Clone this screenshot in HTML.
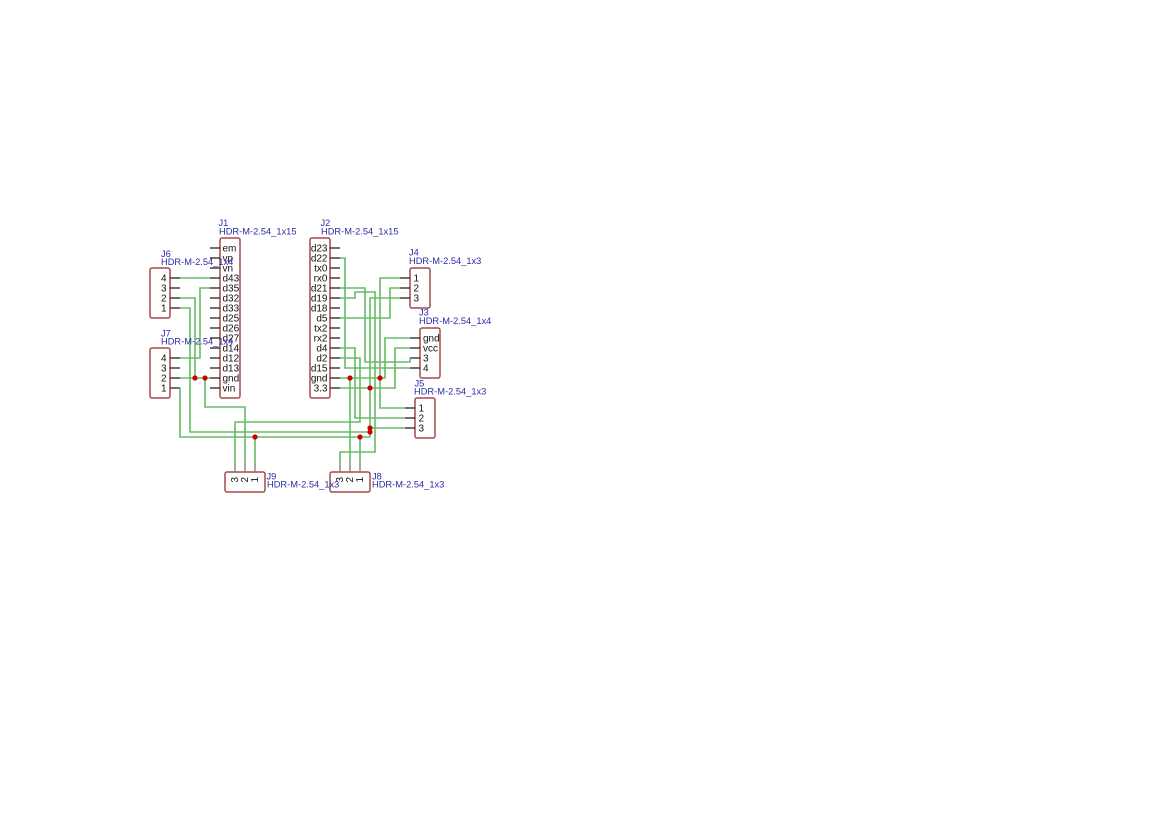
<!DOCTYPE html>
<html>
<head>
<meta charset="utf-8">
<style>
  html, body { margin: 0; padding: 0; background: #ffffff; }
  svg { display: block; }
  .ref { font-family: "Liberation Sans", Arial, sans-serif; font-size: 9.3px; fill: #2b2ba8; }
  .pn { font-family: "Liberation Sans", Arial, sans-serif; font-size: 10px; fill: #111; }
  .box { fill: #ffffff; stroke: #a34a4a; stroke-width: 1.5; }
  .stub { stroke: #1a1a1a; stroke-width: 1.2; fill: none; }
  .stubg { stroke: #808080; stroke-width: 1.4; fill: none; }
  .w { stroke: #66bb66; stroke-width: 1.6; fill: none; stroke-linejoin: miter; }
  .j { fill: #cc0000; }
</style>
</head>
<body>
<svg width="1169" height="828" viewBox="0 0 1169 828" xmlns="http://www.w3.org/2000/svg">
  <rect x="0" y="0" width="1169" height="828" fill="#ffffff"/>

  <!-- ===== Bodies ===== -->
  <rect class="box" x="220" y="238" width="20" height="160" rx="2"/>
  <rect class="box" x="310" y="238" width="20" height="160" rx="2"/>
  <rect class="box" x="150" y="268" width="20" height="50" rx="2"/>
  <rect class="box" x="150" y="348" width="20" height="50" rx="2"/>
  <rect class="box" x="410" y="268" width="20" height="40" rx="2"/>
  <rect class="box" x="420" y="328" width="20" height="50" rx="2"/>
  <rect class="box" x="415" y="398" width="20" height="40" rx="2"/>
  <rect class="box" x="225" y="472" width="40" height="20" rx="2"/>
  <rect class="box" x="330" y="472" width="40" height="20" rx="2"/>

  <!-- ===== Pin stubs ===== -->
  <g class="stub">
    <!-- J1 -->
    <path d="M210 248H220M210 258H220M210 268H220M210 278H220M210 288H220M210 298H220M210 308H220M210 318H220M210 328H220M210 338H220M210 348H220M210 358H220M210 368H220M210 378H220M210 388H220"/>
    <!-- J2 -->
    <path d="M330 248H340M330 258H340M330 268H340M330 278H340M330 288H340M330 298H340M330 308H340M330 318H340M330 328H340M330 338H340M330 348H340M330 358H340M330 368H340M330 378H340M330 388H340"/>
    <!-- J6 / J7 -->
    <path d="M170 278H180M170 288H180M170 298H180M170 308H180"/>
    <path d="M170 358H180M170 368H180M170 378H180M170 388H180"/>
    <!-- J4 -->
    <path d="M400 278H410M400 288H410M400 298H410"/>
    <!-- J3 -->
    <path d="M410 338H420M410 348H420M410 358H420M410 368H420"/>
    <!-- J5 -->
    <path d="M405 408H415M405 418H415M405 428H415"/>
  </g>
  <g class="stubg">
    <path d="M235 462V472M245 462V472M255 462V472"/>
    <path d="M340 462V472M350 462V472M360 462V472"/>
  </g>

  <!-- ===== Wires ===== -->
  <g class="w">
    <path d="M180 278H210"/>
    <path d="M180 358H200V288H210"/>
    <path d="M180 298H195V378"/>
    <path d="M180 378H210"/>
    <path d="M180 308H190V432H370"/>
    <path d="M180 388V437H370"/>
    <path d="M400 298H370V437"/>
    <path d="M205 378V407H245V462"/>
    <path d="M235 462V422H360V358H340"/>
    <path d="M255 462V437"/>
    <path d="M360 462V437"/>
    <path d="M350 462V378"/>
    <path d="M340 462V452H375V292H355V298H340"/>
    <path d="M340 258H345V368H410"/>
    <path d="M340 288H365V362H410V358"/>
    <path d="M340 318H390V288H400"/>
    <path d="M400 278H380V408H405"/>
    <path d="M340 378H385V338H410"/>
    <path d="M340 388H395V348H410"/>
    <path d="M340 348H355V418H405"/>
    <path d="M405 428H370"/>
  </g>

  <!-- ===== Junctions ===== -->
  <g class="j">
    <circle cx="195" cy="378" r="2.6"/>
    <circle cx="205" cy="378" r="2.6"/>
    <circle cx="255" cy="437" r="2.6"/>
    <circle cx="360" cy="437" r="2.6"/>
    <circle cx="350" cy="378" r="2.6"/>
    <circle cx="380" cy="378" r="2.6"/>
    <circle cx="370" cy="388" r="2.6"/>
    <circle cx="370" cy="428" r="2.6"/>
    <circle cx="370" cy="432" r="2.6"/>
  </g>

  <!-- ===== Pin names: J1 ===== -->
  <g class="pn" text-anchor="start">
    <text x="222.5" y="251.6">em</text>
    <text x="222.5" y="261.6">vp</text>
    <text x="222.5" y="271.6">vn</text>
    <text x="222.5" y="281.6">d43</text>
    <text x="222.5" y="291.6">d35</text>
    <text x="222.5" y="301.6">d32</text>
    <text x="222.5" y="311.6">d33</text>
    <text x="222.5" y="321.6">d25</text>
    <text x="222.5" y="331.6">d26</text>
    <text x="222.5" y="341.6">d27</text>
    <text x="222.5" y="351.6">d14</text>
    <text x="222.5" y="361.6">d12</text>
    <text x="222.5" y="371.6">d13</text>
    <text x="222.5" y="381.6">gnd</text>
    <text x="222.5" y="391.6">vin</text>
  </g>

  <!-- ===== Pin names: J2 ===== -->
  <g class="pn" text-anchor="end">
    <text x="327.5" y="251.6">d23</text>
    <text x="327.5" y="261.6">d22</text>
    <text x="327.5" y="271.6">tx0</text>
    <text x="327.5" y="281.6">rx0</text>
    <text x="327.5" y="291.6">d21</text>
    <text x="327.5" y="301.6">d19</text>
    <text x="327.5" y="311.6">d18</text>
    <text x="327.5" y="321.6">d5</text>
    <text x="327.5" y="331.6">tx2</text>
    <text x="327.5" y="341.6">rx2</text>
    <text x="327.5" y="351.6">d4</text>
    <text x="327.5" y="361.6">d2</text>
    <text x="327.5" y="371.6">d15</text>
    <text x="327.5" y="381.6">gnd</text>
    <text x="327.5" y="391.6">3.3</text>
  </g>

  <!-- ===== Pin numbers J6/J7 ===== -->
  <g class="pn" text-anchor="end">
    <text x="166.5" y="281.6">4</text>
    <text x="166.5" y="291.6">3</text>
    <text x="166.5" y="301.6">2</text>
    <text x="166.5" y="311.6">1</text>
    <text x="166.5" y="361.6">4</text>
    <text x="166.5" y="371.6">3</text>
    <text x="166.5" y="381.6">2</text>
    <text x="166.5" y="391.6">1</text>
  </g>

  <!-- ===== Pin numbers J4/J3/J5 ===== -->
  <g class="pn" text-anchor="start">
    <text x="413.5" y="281.6">1</text>
    <text x="413.5" y="291.6">2</text>
    <text x="413.5" y="301.6">3</text>
    <text x="423" y="341.6">gnd</text>
    <text x="423" y="351.6">vcc</text>
    <text x="423" y="361.6">3</text>
    <text x="423" y="371.6">4</text>
    <text x="418.5" y="411.6">1</text>
    <text x="418.5" y="421.6">2</text>
    <text x="418.5" y="431.6">3</text>
  </g>

  <!-- ===== Rotated pin numbers J9/J8 ===== -->
  <g class="pn">
    <text transform="translate(238,482.5) rotate(-90)">3</text>
    <text transform="translate(248,482.5) rotate(-90)">2</text>
    <text transform="translate(258,482.5) rotate(-90)">1</text>
    <text transform="translate(343,482.5) rotate(-90)">3</text>
    <text transform="translate(353,482.5) rotate(-90)">2</text>
    <text transform="translate(363,482.5) rotate(-90)">1</text>
  </g>

  <!-- ===== Reference / value labels ===== -->
  <g class="ref">
    <text x="218.5" y="226">J1</text>
    <text x="219" y="234.5">HDR-M-2.54_1x15</text>
    <text x="320.5" y="226">J2</text>
    <text x="321" y="234.5">HDR-M-2.54_1x15</text>
    <text x="161" y="257">J6</text>
    <text x="161" y="265">HDR-M-2.54_1x4</text>
    <text x="161" y="336.5">J7</text>
    <text x="161" y="344.5">HDR-M-2.54_1x4</text>
    <text x="409" y="255.5">J4</text>
    <text x="409" y="264">HDR-M-2.54_1x3</text>
    <text x="419" y="315.5">J3</text>
    <text x="419" y="324">HDR-M-2.54_1x4</text>
    <text x="414.5" y="386.5">J5</text>
    <text x="414" y="394.5">HDR-M-2.54_1x3</text>
    <text x="266.5" y="479.5">J9</text>
    <text x="267" y="487.5">HDR-M-2.54_1x3</text>
    <text x="372" y="479.5">J8</text>
    <text x="372" y="487.5">HDR-M-2.54_1x3</text>
  </g>
</svg>
</body>
</html>
